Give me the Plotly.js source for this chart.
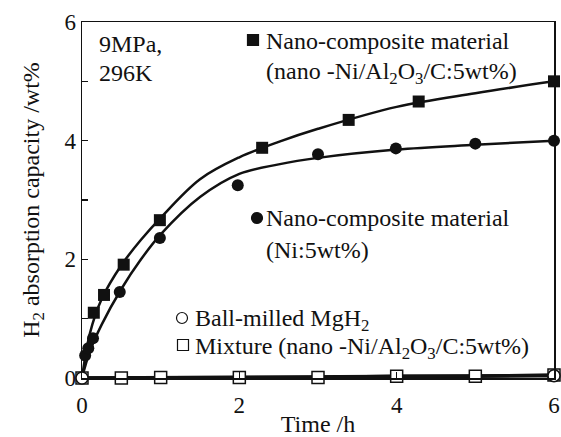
<!DOCTYPE html>
<html><head><meta charset="utf-8">
<script src="https://cdn.plot.ly/plotly-3.0.1.min.js"></script>
<style>body{margin:0;background:#fff}#g{width:561px;height:437px}</style>
</head><body><div id="g"></div>
<script>
// Nano-composite material (nano-Ni/Al2O3/C:5wt%) - filled squares
const sqX = [0, 0.15, 0.28, 0.53, 0.99, 2.29, 3.39, 4.28, 6.0];
const sqY = [0, 1.10, 1.40, 1.91, 2.66, 3.88, 4.35, 4.66, 5.0];
// fitted curve
const sqFitX = [0, 0.1, 0.25, 0.5, 0.75, 1.0, 1.5, 2.0, 2.5, 3.0, 4.0, 5.0, 6.0];
const sqFitY = [0, 0.75, 1.33, 1.90, 2.33, 2.70, 3.35, 3.72, 3.98, 4.20, 4.57, 4.80, 5.0];
// Nano-composite material (Ni:5wt%) - filled circles
const ciX = [0, 0.04, 0.08, 0.14, 0.48, 0.99, 1.98, 3.0, 3.99, 5.0, 6.0];
const ciY = [0, 0.38, 0.50, 0.67, 1.45, 2.36, 3.25, 3.77, 3.87, 3.95, 4.0];
const ciFitX = [0, 0.1, 0.25, 0.5, 0.75, 1.0, 1.5, 2.0, 2.5, 3.0, 4.0, 5.0, 6.0];
const ciFitY = [0, 0.45, 0.90, 1.50, 2.00, 2.42, 3.05, 3.44, 3.60, 3.71, 3.85, 3.93, 4.0];
// Ball-milled MgH2 - open circles
const bmX = [0, 6.0];
const bmY = [0, 0.04];
// Mixture - open squares
const mxX = [0, 0.5, 1.0, 2.0, 3.0, 4.0, 5.0, 6.0];
const mxY = [0, 0, 0.01, 0.01, 0.01, 0.03, 0.03, 0.05];

const xTicks = [0, 2, 4, 6];

const FONT = '"Liberation Serif", "Times New Roman", serif';
const X0 = 82, X1 = 554, Y0 = 378, Y1 = 22;
const px = v => (v - X0) / (X1 - X0);
const py = v => (Y0 - v) / (Y0 - Y1);

const traces = [
  {x: sqFitX, y: sqFitY, mode: 'lines', line: {color: '#111', width: 2.5, shape: 'spline', smoothing: 1}, hoverinfo: 'skip'},
  {x: ciFitX, y: ciFitY, mode: 'lines', line: {color: '#111', width: 2.5, shape: 'spline', smoothing: 1}, hoverinfo: 'skip'},
  {x: mxX, y: mxY, mode: 'lines', line: {color: '#111', width: 3.5}, cliponaxis: false},
  {x: bmX, y: bmY, mode: 'lines', line: {color: '#111', width: 3.5}, cliponaxis: false},
  {x: sqX, y: sqY, mode: 'markers', marker: {symbol: 'square', size: 12, color: '#111'}, cliponaxis: false},
  {x: ciX, y: ciY, mode: 'markers', marker: {symbol: 'circle', size: 12, color: '#111'}, cliponaxis: false},
  {x: mxX, y: mxY, mode: 'markers', marker: {symbol: 'square', size: 12, color: '#fff', line: {color: '#111', width: 1.5}}, cliponaxis: false},
  {x: bmX, y: bmY, mode: 'markers', marker: {symbol: 'circle', size: 12, color: '#fff', line: {color: '#111', width: 1.5}}, cliponaxis: false}
];

const tf = {family: FONT, size: 23, color: '#111'};
const af = {family: FONT, size: 24, color: '#111'};
function ann(text, x, y) {
  return {text: text, xref: 'paper', yref: 'paper', x: px(x), y: py(y), xanchor: 'left', yanchor: 'middle', showarrow: false, font: af};
}
const annotations = [
  ann('9MPa,', 97, 44),
  ann('296K', 97, 73),
  ann('Nano-composite material', 264, 41),
  ann('(nano -Ni/Al<sub>2</sub>O<sub>3</sub>/C:5wt%)', 264, 73),
  ann('Nano-composite material', 264, 218),
  ann('(Ni:5wt%)', 264, 250),
  ann('Ball-milled MgH<sub>2</sub>', 193, 320),
  ann('Mixture (nano -Ni/Al<sub>2</sub>O<sub>3</sub>/C:5wt%)', 193, 348)
];
function rect(cx, cy, s, fill) {
  return {type: 'rect', xref: 'paper', yref: 'paper', x0: px(cx - s/2), x1: px(cx + s/2), y0: py(cy + s/2), y1: py(cy - s/2), fillcolor: fill, line: {color: '#111', width: 1.2}};
}
function circ(cx, cy, s, fill) {
  return {type: 'circle', xref: 'paper', yref: 'paper', x0: px(cx - s/2), x1: px(cx + s/2), y0: py(cy + s/2), y1: py(cy - s/2), fillcolor: fill, line: {color: '#111', width: 1.2}};
}
const shapes = [
  rect(253, 40, 11, '#111'),
  circ(257, 218, 11, '#111'),
  circ(182, 318, 11, '#fff'),
  rect(183, 345, 11, '#fff')
];

const layout = {
  width: 561, height: 437,
  margin: {l: X0, r: 561 - X1, t: Y1, b: 437 - Y0},
  paper_bgcolor: '#fff', plot_bgcolor: '#fff',
  showlegend: false,
  font: tf,
  xaxis: {
    range: [0, 6], tickvals: xTicks, ticktext: xTicks.map(String),
    ticks: 'inside', ticklen: 6, tickwidth: 1.2, tickcolor: '#111',
    showline: true, linecolor: '#111', linewidth: 1.5, mirror: true,
    showgrid: false, zeroline: false, tickfont: tf, ticklabelstandoff: 6,
    title: {text: 'Time /h', font: af, standoff: 0}
  },
  yaxis: {
    range: [0, 6], tickvals: [0, 1, 2, 3, 4, 5, 6], ticktext: ['0', '', '2', '', '4', '', '6'],
    ticks: 'inside', ticklen: 6, tickwidth: 1.2, tickcolor: '#111',
    showline: true, linecolor: '#111', linewidth: 1.5, mirror: true,
    showgrid: false, zeroline: false, tickfont: tf,
    title: {text: 'H<sub>2</sub> absorption capacity /wt%', font: af, standoff: 18}
  },
  annotations: annotations,
  shapes: shapes
};
Plotly.newPlot('g', traces, layout, {displayModeBar: false, staticPlot: true});
</script></body></html>
